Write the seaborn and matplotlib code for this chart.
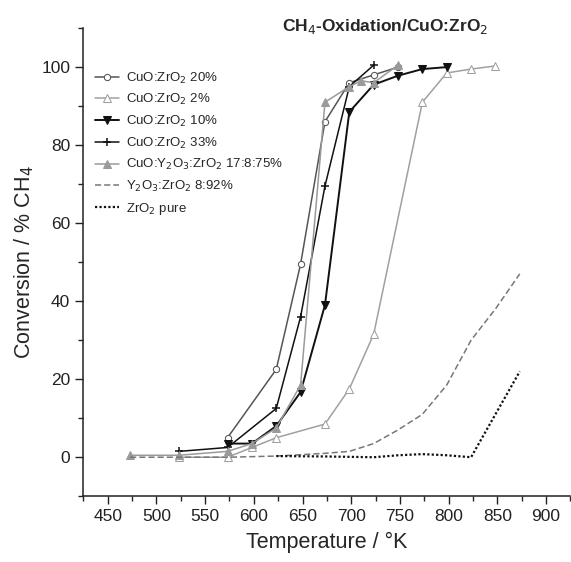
import matplotlib
matplotlib.use("Agg")
import matplotlib.pyplot as plt
import seaborn as sns
from matplotlib.ticker import MultipleLocator

# Conversion data (temperature in K, conversion in %)
t_20 = [573, 623, 648, 673, 698, 723, 748]
v_20 = [5, 22.5, 49.5, 86, 96, 98, 100]

t_2 = [523, 573, 598, 623, 673, 698, 723, 773, 798, 823, 848]
v_2 = [0, 0, 2.5, 5, 8.5, 17.5, 31.5, 91, 98.5, 99.5, 100.3]

t_10 = [573, 598, 623, 648, 673, 698, 723, 748, 773, 798]
v_10 = [3.5, 3.5, 8, 16.7, 39, 88.5, 95.5, 97.8, 99.5, 100]

t_33 = [523, 573, 623, 648, 673, 698, 723]
v_33 = [1.5, 2.5, 12.5, 36, 69.5, 95, 100.5]

t_cyz = [473, 523, 573, 598, 623, 648, 673, 698, 710, 723, 748]
v_cyz = [0.5, 0.5, 1.5, 3.5, 7.5, 18.5, 91, 95, 96.5, 96, 100.5]

t_yz = [473, 523, 573, 623, 673, 698, 723, 748, 773, 798, 823, 848, 873]
v_yz = [0, 0, 0, 0.3, 1, 1.5, 3.5, 7, 11, 18.5, 30, 38, 47]

t_zr = [623, 673, 723, 748, 773, 798, 823, 873]
v_zr = [0.3, 0.2, 0, 0.5, 0.8, 0.5, 0, 22]

sns.set_style("ticks")
plt.rcParams['font.family'] = ['Liberation Sans', 'DejaVu Sans']

fig = plt.figure(figsize=(5.71, 5.62), dpi=100)
ax = fig.add_axes([0.146, 0.117, 0.853, 0.833])

sns.lineplot(x=t_20, y=v_20, ax=ax, color='#555555', marker='o', markersize=4.5,
             markerfacecolor='white', markeredgecolor='#555555', linewidth=1.1,
             label='CuO:ZrO$_2$ 20%')
sns.lineplot(x=t_2, y=v_2, ax=ax, color='#a0a0a0', marker='^', markersize=5.5,
             markerfacecolor='white', markeredgecolor='#a0a0a0', linewidth=1.1,
             label='CuO:ZrO$_2$ 2%')
sns.lineplot(x=t_10, y=v_10, ax=ax, color='#111111', marker='v', markersize=6,
             markerfacecolor='#111111', markeredgecolor='#111111', linewidth=1.4,
             label='CuO:ZrO$_2$ 10%')
sns.lineplot(x=t_33, y=v_33, ax=ax, color='#111111', marker='+', markersize=6,
             markeredgecolor='#111111', markeredgewidth=1.1, linewidth=1.1,
             label='CuO:ZrO$_2$ 33%')
sns.lineplot(x=t_cyz, y=v_cyz, ax=ax, color='#9a9a9a', marker='^', markersize=5.5,
             markerfacecolor='#9a9a9a', markeredgecolor='#9a9a9a', linewidth=1.1,
             label='CuO:Y$_2$O$_3$:ZrO$_2$ 17:8:75%')
sns.lineplot(x=t_yz, y=v_yz, ax=ax, color='#777777', linestyle=(0, (4, 2)),
             linewidth=1.1, label='Y$_2$O$_3$:ZrO$_2$ 8:92%')
sns.lineplot(x=t_zr, y=v_zr, ax=ax, color='#111111', linestyle=(0, (1, 1)),
             linewidth=1.6, label='ZrO$_2$ pure')

ax.set_xlim(425, 925)
ax.set_ylim(-10, 110)
ax.xaxis.set_minor_locator(MultipleLocator(25))
ax.yaxis.set_major_locator(MultipleLocator(20))
ax.yaxis.set_minor_locator(MultipleLocator(10))
ax.set_xticks(range(450, 901, 50))
ax.tick_params(axis='both', which='major', length=6, width=1, labelsize=12.5, colors='#222222')
ax.tick_params(axis='both', which='minor', length=3.5, width=1)
for s in ['top', 'right']:
    ax.spines[s].set_visible(False)
for s in ['left', 'bottom']:
    ax.spines[s].set_linewidth(1.1)
    ax.spines[s].set_color('#222222')

ax.set_xlabel('Temperature / °K', fontsize=15.5, labelpad=5)
ax.set_ylabel('Conversion / % CH$_4$', fontsize=15.5, labelpad=4)

fig.text(0.675, 0.952, 'CH$_4$-Oxidation/CuO:ZrO$_2$', ha='center', va='center',
         fontsize=12.5, fontweight='bold')

ax.legend(loc='upper left', bbox_to_anchor=(0.0, 0.935), frameon=False,
          fontsize=9.5, handlelength=1.8, handletextpad=0.5, labelspacing=0.5)

fig.savefig('out.png', dpi=100)
